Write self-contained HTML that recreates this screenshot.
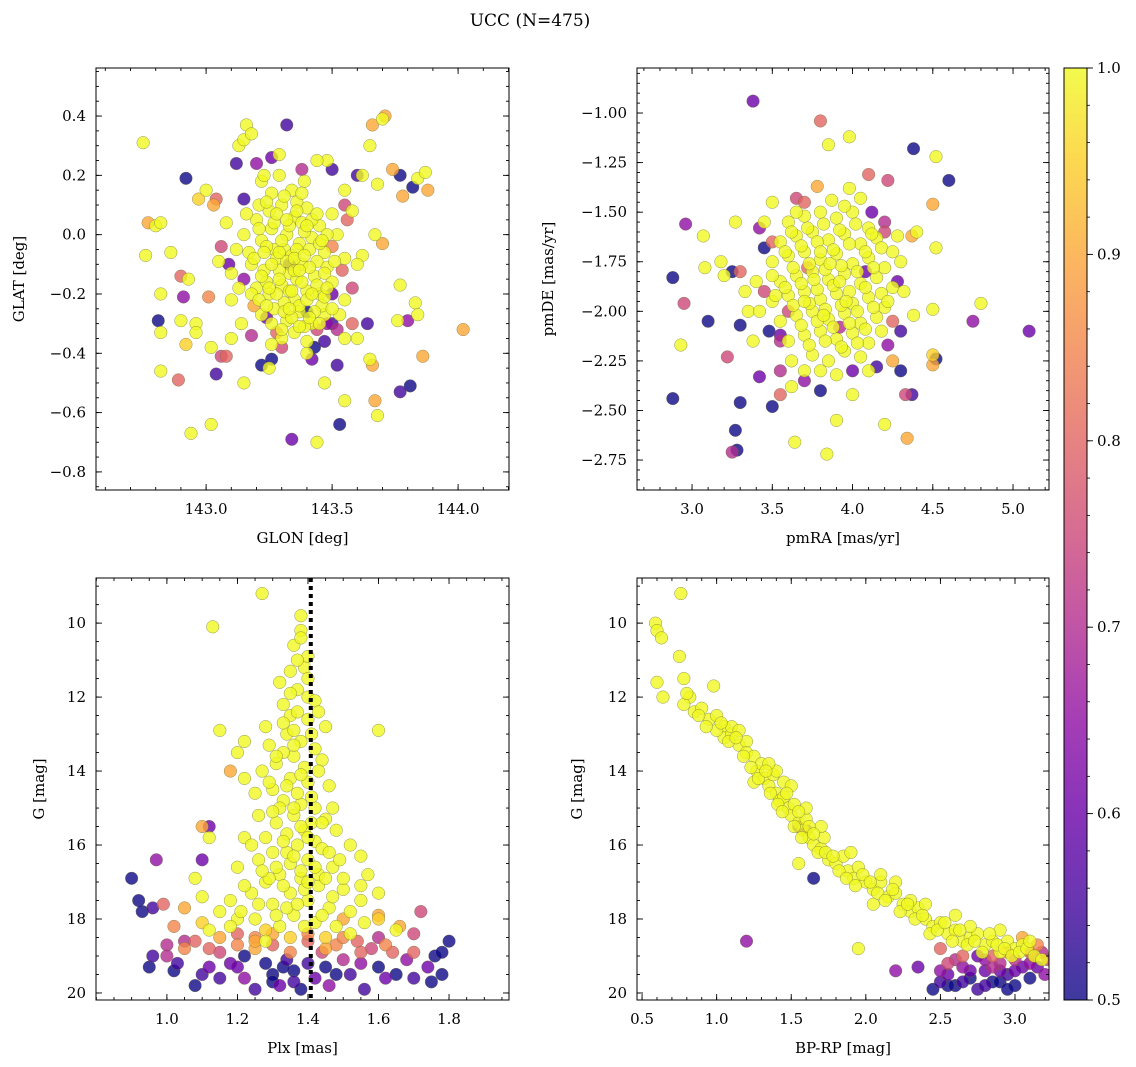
<!DOCTYPE html>
<html><head><meta charset="utf-8">
<style>
body{margin:0;background:#fff;}
svg{display:block;font-family:"DejaVu Serif","Liberation Serif",serif;}
</style></head>
<body>
<svg id="fig" width="1136" height="1067" viewBox="0 0 1136 1067" xmlns="http://www.w3.org/2000/svg">
<text x="530" y="26" font-size="17" text-anchor="middle">UCC (N=475)</text>
</svg>
<script>
// ---- data: [x, y, membership probability] ----
const glonGlat = [
[142.75,0.31,1],[142.76,-0.07,1],[142.77,0.04,0.9],[142.8,0.03,1],[142.82,0.04,1],[142.81,-0.29,0.5],[142.82,-0.2,1],[142.82,-0.33,1],[142.82,-0.46,1],[142.86,-0.06,1],[142.89,-0.49,0.8],[142.9,-0.14,0.8],[142.9,-0.29,1],[142.91,-0.21,0.65],[142.92,0.19,0.5],[142.92,-0.37,0.95],[142.93,-0.15,1],[142.94,-0.67,1],[142.96,-0.3,1],[142.96,-0.33,1],[142.97,0.12,0.95],[143.0,0.15,1],[143.01,-0.21,0.85],[143.02,-0.64,1],[143.02,-0.38,1],[143.03,0.1,0.9],[143.04,0.12,0.8],[143.04,-0.47,0.55],[143.06,-0.41,0.75],[143.05,-0.09,1],[143.08,-0.41,0.8],[143.1,-0.35,1],[143.12,0.24,0.55],[143.13,0.3,1],[143.15,0.32,1],[143.15,-0.5,1],[143.16,0.37,1],[143.18,0.34,1],[143.22,0.18,1],[143.22,-0.44,0.5],[143.25,-0.45,1],[143.26,0.26,0.6],[143.29,0.27,1],[143.32,0.37,0.55],[143.34,-0.69,0.6],[143.4,-0.4,1],[143.43,-0.38,0.5],[143.44,-0.7,1],[143.47,-0.5,1],[143.52,-0.44,0.55],[143.53,-0.64,0.5],[143.55,-0.56,1],[143.5,0.22,0.55],[143.48,0.25,1],[143.55,0.15,1],[143.6,0.2,0.55],[143.62,0.2,1],[143.65,0.3,1],[143.66,0.37,0.9],[143.7,0.39,1],[143.71,0.4,0.9],[143.68,0.17,1],[143.74,0.22,0.9],[143.77,0.2,0.5],[143.77,-0.17,1],[143.78,0.13,0.9],[143.82,0.16,0.5],[143.84,0.19,1],[143.87,0.21,1],[143.88,0.15,0.9],[143.8,-0.29,0.65],[143.76,-0.29,1],[143.77,-0.53,0.55],[143.81,-0.51,0.5],[143.83,-0.23,1],[143.84,-0.27,1],[143.86,-0.41,0.9],[144.02,-0.32,0.9],[143.7,-0.03,0.9],[143.67,0.0,1],[143.65,-0.42,1],[143.66,-0.44,0.9],[143.67,-0.56,0.9],[143.68,-0.61,1],[143.64,-0.3,0.55],[143.6,-0.35,1],[143.55,-0.35,1],[143.5,-0.3,0.55],[143.48,-0.3,0.65],[143.58,-0.18,0.75],[143.56,0.05,0.8],[143.62,-0.07,1],
[143.06,-0.04,0.75],[143.09,-0.1,0.6],[143.24,-0.28,0.6],[143.4,-0.26,0.5],[143.33,-0.1,0.55],
[143.2,0.05,1],[143.25,0.08,1],[143.3,0.1,1],[143.35,0.06,1],[143.4,0.09,1],[143.45,0.03,1],[143.22,-0.02,1],[143.27,-0.05,1],[143.32,0.0,1],[143.37,-0.03,1],[143.42,-0.01,1],[143.47,-0.06,1],[143.18,-0.1,1],[143.23,-0.12,1],[143.28,-0.08,1],[143.33,-0.13,1],[143.38,-0.1,1],[143.43,-0.14,1],[143.48,-0.11,1],[143.2,-0.18,1],[143.25,-0.2,1],[143.3,-0.17,1],[143.35,-0.22,1],[143.4,-0.19,1],[143.45,-0.2,1],[143.5,-0.16,1],[143.22,-0.27,1],[143.27,-0.25,1],[143.32,-0.29,1],[143.37,-0.26,1],[143.42,-0.3,1],[143.47,-0.27,1],[143.3,-0.35,1],[143.35,-0.33,1],[143.4,-0.36,1],[143.15,0.0,1],[143.12,-0.05,1],[143.1,-0.13,1],[143.52,0.0,1],[143.55,-0.08,1],[143.55,-0.22,1],[143.34,0.15,1],[143.29,0.2,1],[143.39,0.18,1],[143.44,0.25,1],[143.26,0.14,1],[143.08,0.04,1],[143.1,-0.22,1],[143.14,-0.3,1],[143.6,-0.1,1],[143.58,0.08,1],[143.31,-0.05,1],[143.36,-0.15,1],[143.29,-0.12,1],[143.41,-0.05,1],[143.34,-0.07,1],[143.24,-0.16,1],[143.46,-0.24,1],[143.21,0.1,1],[143.38,0.04,1],[143.33,-0.19,1],[143.28,-0.33,0.8],[143.44,-0.32,0.75],[143.19,-0.24,0.9],[143.5,-0.2,0.6],
[143.17,-0.06,1],[143.26,0.02,1],[143.36,0.11,1],[143.44,-0.09,1],[143.31,-0.23,1],[143.39,-0.31,1],[143.26,-0.37,1],[143.5,0.07,1],[143.16,0.07,1],[143.13,-0.18,1],[143.53,-0.27,1],[143.23,0.2,1]
];
const glonGlatCore = [
[143.21,0.02,1],[143.24,-0.04,1],[143.27,0.04,1],[143.3,-0.02,1],[143.33,0.03,1],[143.36,-0.05,1],[143.39,0.01,1],[143.42,0.05,1],[143.45,-0.03,1],[143.48,0.0,1],
[143.19,-0.08,1],[143.22,-0.14,1],[143.26,-0.1,1],[143.29,-0.15,1],[143.32,-0.09,1],[143.35,-0.12,1],[143.38,-0.16,1],[143.41,-0.11,1],[143.44,-0.17,1],[143.47,-0.13,1],[143.51,-0.09,1],
[143.18,-0.2,1],[143.21,-0.22,1],[143.24,-0.24,1],[143.28,-0.2,1],[143.31,-0.26,1],[143.34,-0.19,1],[143.37,-0.24,1],[143.4,-0.22,1],[143.43,-0.26,1],[143.47,-0.21,1],[143.5,-0.25,1],
[143.26,-0.3,1],[143.3,-0.32,1],[143.34,-0.28,1],[143.37,-0.31,1],[143.41,-0.28,1],[143.45,-0.3,1],
[143.28,0.07,1],[143.32,0.05,1],[143.36,0.08,1],[143.4,0.03,1],[143.44,0.07,1],[143.24,0.11,1],[143.31,0.13,1],[143.38,0.14,1],
[143.23,-0.06,1],[143.29,-0.06,1],[143.35,-0.08,1],[143.39,-0.07,1],[143.46,-0.02,1],[143.25,-0.18,1],[143.33,-0.25,1],[143.42,-0.2,1],[143.48,-0.18,1],[143.37,-0.12,1],
[143.5,-0.04,0.85],[143.54,-0.12,0.8],[143.52,-0.32,0.7],[143.3,-0.38,0.75],[143.42,-0.42,0.6],[143.18,-0.34,0.7],[143.15,-0.15,0.65],[143.55,0.1,0.75],[143.38,0.22,0.7],[143.2,0.24,0.65],[143.47,-0.36,0.55],[143.26,-0.42,0.5],[143.58,-0.3,0.8],[143.15,0.12,0.55]
];
const pmraPmde = [
[3.38,-0.94,0.6],[3.8,-1.04,0.8],[3.98,-1.12,1],[3.85,-1.16,1],[4.38,-1.18,0.5],[4.52,-1.22,1],[4.6,-1.34,0.5],[4.22,-1.34,0.75],[4.1,-1.31,0.8],[2.96,-1.56,0.65],[3.07,-1.62,1],[3.27,-1.55,1],[2.88,-1.83,0.5],[3.08,-1.78,1],[3.18,-1.75,1],[3.25,-1.8,0.5],[3.3,-1.8,0.8],[3.2,-1.82,1],[2.95,-1.96,0.75],[3.1,-2.05,0.5],[2.93,-2.17,1],[3.22,-2.23,0.75],[3.3,-2.07,0.5],[3.35,-2.0,1],[2.88,-2.44,0.5],[3.3,-2.46,0.5],[3.27,-2.6,0.5],[3.25,-2.71,0.7],[3.28,-2.7,0.5],[3.42,-2.33,0.6],[3.5,-2.48,0.5],[3.55,-2.42,0.8],[3.64,-2.66,1],[3.8,-2.4,0.5],[3.84,-2.72,1],[3.9,-2.55,1],[4.0,-2.42,1],[4.2,-2.57,1],[4.33,-2.42,0.75],[4.37,-2.42,0.55],[4.34,-2.64,0.9],[4.5,-2.27,0.9],[4.52,-2.24,0.5],[4.5,-2.22,0.95],[4.3,-2.3,0.5],[4.25,-2.25,0.9],[4.5,-1.99,1],[4.8,-1.96,1],[4.75,-2.05,0.65],[5.1,-2.1,0.6],[4.52,-1.68,1],[4.4,-1.6,1],[4.37,-1.62,0.9],[4.5,-1.46,0.9],[3.5,-1.45,1],[3.65,-1.43,0.75],[3.78,-1.37,0.9],[3.7,-1.45,0.8],[4.05,-1.43,1],[4.12,-1.5,0.6],[4.2,-1.55,0.7],[3.42,-1.58,0.65],[3.45,-1.68,0.5],[3.48,-2.1,0.5],[3.55,-2.12,0.6],[4.0,-2.3,0.6],[4.15,-2.28,0.55],[4.3,-2.1,0.55],[4.22,-2.17,0.65],[3.55,-2.3,0.7],
[3.6,-1.55,1],[3.7,-1.52,1],[3.8,-1.5,1],[3.9,-1.53,1],[4.0,-1.5,1],[4.1,-1.58,1],[3.55,-1.65,1],[3.65,-1.62,1],[3.75,-1.6,1],[3.85,-1.64,1],[3.95,-1.61,1],[4.05,-1.66,1],[4.15,-1.63,1],[3.5,-1.75,1],[3.6,-1.72,1],[3.7,-1.7,1],[3.8,-1.74,1],[3.9,-1.71,1],[4.0,-1.76,1],[4.1,-1.73,1],[4.2,-1.78,1],[3.55,-1.85,1],[3.65,-1.82,1],[3.75,-1.8,1],[3.85,-1.84,1],[3.95,-1.81,1],[4.05,-1.86,1],[4.15,-1.83,1],[4.25,-1.88,1],[3.5,-1.95,1],[3.6,-1.92,1],[3.7,-1.9,1],[3.8,-1.94,1],[3.9,-1.91,1],[4.0,-1.96,1],[4.1,-1.93,1],[4.2,-1.98,1],[3.55,-2.05,1],[3.65,-2.02,1],[3.75,-2.0,1],[3.85,-2.04,1],[3.95,-2.01,1],[4.05,-2.06,1],[4.15,-2.03,1],[3.6,-2.15,1],[3.7,-2.12,1],[3.8,-2.1,1],[3.9,-2.14,1],[4.0,-2.11,1],[4.1,-2.16,1],[3.75,-2.22,1],[3.85,-2.25,1],[3.95,-2.2,1],[4.05,-2.23,1],[3.7,-2.3,1],[3.9,-2.32,1],[3.62,-2.38,1],[3.4,-1.85,1],[3.42,-2.0,1],[4.3,-1.75,1],[4.32,-1.9,1],[3.45,-1.55,1],[3.87,-1.44,1],[3.98,-1.38,1],[4.28,-1.62,1],[3.33,-1.9,1],[3.38,-2.15,1],[4.38,-2.02,1],[3.72,-1.78,0.8],[3.92,-2.08,0.7],[4.08,-1.8,0.6],[3.6,-2.0,0.75]
];
const pmraPmdeCore = [
[3.62,-1.6,1],[3.72,-1.58,1],[3.82,-1.56,1],[3.92,-1.59,1],[4.02,-1.56,1],[4.12,-1.61,1],[3.58,-1.7,1],[3.68,-1.67,1],[3.78,-1.65,1],[3.88,-1.69,1],[3.98,-1.66,1],[4.08,-1.7,1],[4.18,-1.68,1],[3.63,-1.78,1],[3.73,-1.76,1],[3.83,-1.79,1],[3.93,-1.77,1],[4.03,-1.8,1],[4.13,-1.78,1],[3.58,-1.88,1],[3.68,-1.86,1],[3.78,-1.89,1],[3.88,-1.87,1],[3.98,-1.9,1],[4.08,-1.88,1],[4.18,-1.91,1],[3.63,-1.97,1],[3.73,-1.96,1],[3.83,-1.99,1],[3.93,-1.97,1],[4.03,-2.0,1],[4.13,-1.98,1],[3.68,-2.07,1],[3.78,-2.05,1],[3.88,-2.08,1],[3.98,-2.06,1],[4.08,-2.09,1],[3.73,-2.17,1],[3.83,-2.15,1],[3.93,-2.18,1],[4.03,-2.16,1],[3.8,-1.7,1],[3.86,-1.76,1],[3.76,-1.84,1],[3.92,-1.85,1],[3.7,-1.95,1],[3.96,-1.95,1],[3.82,-2.02,1],[3.5,-1.82,1],[3.52,-1.92,1],[4.25,-1.7,1],[4.22,-1.95,1],[3.65,-1.5,1],[3.95,-1.47,1],[4.18,-2.1,1],[3.62,-2.25,1],[3.8,-2.3,1],[4.1,-2.3,1],
[3.5,-1.65,0.8],[4.2,-1.6,0.75],[3.55,-2.15,0.7],[4.25,-2.05,0.8],[3.7,-2.35,0.65],[4.28,-1.85,0.6],[3.45,-1.9,0.75]
];
const plxG = [
[1.36,10.6,1],[1.38,9.8,1],[1.38,10.2,1],[1.38,10.4,1],[1.27,9.2,1],[1.13,10.1,1],[1.35,11.3,1],[1.32,11.6,1],[1.39,11.2,1],[1.37,11.8,1],[1.4,12.0,1],[1.33,12.2,1],[1.42,12.1,1],[1.35,12.5,1],[1.28,12.8,1],[1.4,12.6,1],[1.45,12.8,1],[1.34,13.0,1],[1.38,13.2,1],[1.29,13.3,1],[1.42,13.4,1],[1.36,13.6,1],[1.31,13.8,1],[1.39,13.9,1],[1.44,13.7,1],[1.27,14.0,1],[1.35,14.2,1],[1.4,14.3,1],[1.22,14.2,1],[1.3,14.5,1],[1.46,14.4,1],[1.33,14.8,1],[1.38,14.9,1],[1.42,15.0,1],[1.25,14.6,1],[1.36,15.2,1],[1.31,15.4,1],[1.45,15.3,1],[1.39,15.6,1],[1.28,15.8,1],[1.34,15.7,1],[1.48,15.6,1],[1.42,15.9,1],[1.22,15.8,1],[1.37,16.0,1],[1.3,16.2,1],[1.44,16.1,1],[1.52,16.0,1],[1.26,16.4,1],[1.35,16.5,1],[1.4,16.4,1],[1.47,16.6,1],[1.32,16.8,1],[1.38,16.9,1],[1.2,16.6,1],[1.55,16.3,1],[1.28,17.0,1],[1.43,17.1,1],[1.35,17.3,1],[1.5,17.2,1],[1.24,17.3,1],[1.4,17.5,1],[1.3,17.6,1],[1.18,17.5,1],[1.46,17.7,1],[1.55,17.5,1],[1.36,17.9,1],[1.25,18.0,1],[1.42,18.1,1],[1.15,17.8,1],[1.6,12.9,1],[1.15,12.9,1],[1.2,13.5,1],[1.22,13.2,1],[1.1,15.5,0.9],[1.12,15.8,1],[1.18,14.0,0.9],[1.08,16.9,1],[1.1,17.4,1],[1.1,18.1,0.95],[1.2,18.0,1],[1.6,17.9,0.9],[1.65,18.3,1],[1.52,18.4,1],[1.48,18.2,1],[1.12,18.3,1],[1.32,18.2,1],[1.45,18.5,0.95],[1.05,17.7,0.9],[1.55,17.1,1],
[1.33,13.5,1],[1.37,14.6,1],[1.41,15.4,1],[1.34,16.2,1],[1.39,17.2,1],[1.32,15.0,1],[1.43,16.8,1],[1.29,16.9,1],[1.36,12.9,1],[1.4,11.5,1],[1.26,15.2,1],[1.47,15.0,1],[1.34,17.7,1],[1.5,16.9,1],[1.22,17.1,1],
[0.9,16.9,0.5],[0.92,17.5,0.5],[0.93,17.8,0.5],[0.96,17.7,0.55],[0.97,16.4,0.65],[0.99,17.6,0.8],[1.0,18.7,0.7],[0.95,19.3,0.5],[0.96,19.0,0.55],[1.02,19.4,0.5],[1.03,19.2,0.55],[1.05,18.6,0.7],[1.08,19.8,0.5],[1.1,19.5,0.55],[1.12,19.3,0.6],[1.08,18.6,0.8],[1.1,16.4,0.6],[1.12,15.5,0.6],[1.15,18.9,0.75],[1.18,19.2,0.6],[1.2,18.4,0.8],[1.22,19.6,0.65],[1.22,19.0,0.5],[1.25,18.5,0.85],[1.25,19.9,0.55],[1.28,19.2,0.5],[1.3,18.7,0.8],[1.3,19.5,0.5],[1.32,19.8,0.6],[1.34,19.1,0.55],[1.35,18.9,0.85],[1.36,19.4,0.5],[1.38,19.9,0.5],[1.4,18.6,0.8],[1.4,19.2,0.55],[1.42,19.6,0.6],[1.44,18.9,0.75],[1.45,19.3,0.5],[1.46,19.8,0.65],[1.48,18.7,0.85],[1.5,19.1,0.7],[1.52,19.5,0.55],[1.54,18.6,0.8],[1.55,19.2,0.65],[1.56,19.9,0.55],[1.58,18.8,0.75],[1.6,19.3,0.5],[1.6,18.5,0.7],[1.62,19.6,0.6],[1.64,18.9,0.8],[1.65,19.5,0.5],[1.66,18.2,0.9],[1.68,19.1,0.65],[1.7,18.4,0.75],[1.7,19.6,0.55],[1.72,17.8,0.75],[1.74,19.3,0.6],[1.75,19.7,0.5],[1.76,19.0,0.5],[1.78,18.9,0.5],[1.8,18.6,0.5],[1.78,19.5,0.5],[1.6,18.0,0.95],[1.5,18.0,0.9],[1.45,18.8,0.9],[1.35,18.5,0.95],[1.25,18.8,0.9],[1.15,18.5,0.9],[1.05,18.8,0.85],[1.0,19.0,0.7],[1.28,18.3,0.95]
];
const plxGCore = [
[1.37,12.4,1],[1.33,12.7,1],[1.41,13.0,1],[1.36,13.3,1],[1.31,13.6,1],[1.43,14.0,1],[1.38,14.1,1],[1.34,14.4,1],[1.41,14.7,1],[1.36,15.0,1],[1.3,15.1,1],[1.44,15.4,1],[1.38,15.5,1],[1.33,15.9,1],[1.4,15.8,1],[1.46,16.2,1],[1.36,16.3,1],[1.31,16.6,1],[1.42,16.6,1],[1.27,16.7,1],[1.38,16.7,1],[1.45,16.9,1],[1.33,17.1,1],[1.4,17.0,1],[1.26,17.6,1],[1.47,17.4,1],[1.37,17.6,1],[1.31,17.9,1],[1.44,17.9,1],[1.52,17.8,1],[1.21,17.8,1],[1.39,18.2,1],[1.28,18.6,1],[1.56,18.1,1],[1.18,18.2,1],[1.6,17.3,1],[1.57,16.8,1],[1.49,16.4,1],[1.24,16.0,1],[1.29,14.3,1],[1.43,12.4,1],[1.35,11.9,1],[1.4,10.9,1],[1.37,11.0,1],
[1.2,18.7,0.85],[1.3,18.4,0.9],[1.4,18.4,0.85],[1.5,18.5,0.85],[1.62,18.7,0.85],[1.12,18.8,0.8],[1.25,18.6,0.9],[1.55,18.9,0.8],[1.7,18.9,0.8],[1.02,18.2,0.85],
[1.3,19.7,0.5],[1.36,19.7,0.55],[1.33,19.3,0.5],[1.15,19.6,0.55],[1.48,19.5,0.5],[1.2,19.3,0.6]
];
const colorG = [
[0.59,10.0,1],[0.6,10.2,1],[0.63,10.4,1],[0.76,9.2,1],[0.6,11.6,1],[0.64,12.0,1],[0.75,10.9,1],[0.78,11.5,1],[0.82,12.0,1],[0.78,12.2,1],[0.85,12.4,1],[0.8,11.9,1],[0.9,12.3,1],[0.95,12.6,1],[0.98,11.7,1],[1.0,12.5,1],[1.05,12.8,1],[1.05,13.1,1],[1.1,13.0,1],[1.1,12.8,1],[1.15,13.3,1],[1.2,13.2,1],[1.2,13.5,1],[1.25,13.6,1],[1.27,14.0,1],[1.3,13.8,1],[1.32,14.2,1],[1.35,14.4,1],[1.38,14.1,1],[1.4,14.6,1],[1.42,14.8,1],[1.45,14.7,1],[1.48,15.0,1],[1.5,15.2,1],[1.52,14.9,1],[1.55,15.4,1],[1.58,15.6,1],[1.6,15.3,1],[1.62,15.8,1],[1.65,16.0,1],[1.7,16.1,1],[1.72,15.8,1],[1.75,16.4,1],[1.8,16.5,1],[1.85,16.3,1],[1.88,16.7,1],[1.92,16.9,1],[1.95,16.6,1],[2.0,17.0,1],[2.05,17.2,1],[2.1,17.0,1],[2.15,17.4,1],[2.2,17.3,1],[2.25,17.6,1],[2.3,17.8,1],[2.35,17.7,1],[2.4,18.0,1],[2.45,18.2,1],[2.5,18.1,1],[2.55,18.4,1],[2.6,18.3,1],[2.65,18.6,1],[2.7,18.5,1],[2.75,18.4,1],[2.8,18.7,1],[2.85,18.6,1],[2.9,18.9,1],[2.95,18.6,1],[3.0,18.8,1],[3.05,18.7,1],[1.95,18.8,1],[1.55,16.5,1],[1.4,14.0,1],[1.25,14.3,1],[1.6,15.0,1],[1.7,15.5,1],[1.9,16.2,1],[2.1,16.8,1],[2.2,17.0,1],[2.3,17.5,1],[1.45,14.3,1],[1.5,14.4,1],[1.35,13.8,1],[1.15,12.9,1],[1.0,12.9,1],[2.05,17.6,1],[2.4,17.6,1],[2.6,17.9,1],[2.7,18.2,1],[2.9,18.3,1],
[1.2,18.6,0.65],[1.65,16.9,0.5],[1.6,15.6,0.6],[1.55,15.5,0.6],[2.2,19.4,0.65],[2.35,19.3,0.6],[2.45,19.9,0.5],[2.5,19.7,0.55],[2.55,19.5,0.6],[2.6,19.8,0.5],[2.65,19.3,0.65],[2.7,19.6,0.5],[2.75,19.9,0.55],[2.8,19.4,0.6],[2.85,19.7,0.5],[2.9,19.2,0.7],[2.95,19.5,0.55],[3.0,19.8,0.5],[3.05,19.3,0.6],[3.1,19.6,0.5],[3.12,19.0,0.75],[3.15,19.3,0.6],[3.18,18.9,0.7],[3.2,19.5,0.65],[3.22,19.1,0.75],[3.15,18.7,0.85],[3.1,18.9,0.8],[3.0,19.1,0.7],[2.9,19.4,0.6],[2.8,19.1,0.65],[2.75,19.0,0.6],[2.6,19.1,0.7],[2.5,18.8,0.8],[2.95,18.9,0.85],[3.05,18.5,0.9],[2.85,19.0,0.8]
];
const colorGCore = [
[0.88,12.5,1],[0.93,12.8,1],[1.03,12.7,1],[1.08,13.2,1],[1.13,13.1,1],[1.18,13.6,1],[1.23,13.9,1],[1.28,14.2,1],[1.33,14.0,1],[1.36,14.6,1],[1.41,14.9,1],[1.44,15.1,1],[1.47,14.6,1],[1.52,15.5,1],[1.55,15.1,1],[1.57,15.8,1],[1.62,15.5,1],[1.65,15.7,1],[1.68,16.2,1],[1.73,16.2,1],[1.78,16.3,1],[1.82,16.7,1],[1.87,16.9,1],[1.93,17.1,1],[1.98,16.8,1],[2.03,17.0,1],[2.08,17.3,1],[2.13,17.5,1],[2.18,17.2,1],[2.23,17.8,1],[2.28,17.6,1],[2.33,18.0,1],[2.38,17.9,1],[2.43,18.4,1],[2.48,18.3,1],[2.53,18.1,1],[2.58,18.6,1],[2.63,18.3,1],[2.68,18.7,1],[2.73,18.6,1],[2.78,18.9,1],[2.83,18.4,1],[2.88,18.7,1],[2.93,18.8,1],[2.98,19.0,1],[3.03,18.9,1],[3.08,18.8,1],[3.13,19.0,1],[3.18,19.1,1],[3.1,18.6,1],
[2.55,19.2,0.75],[2.65,19.0,0.8],[2.85,19.3,0.7],[3.0,19.4,0.6],[2.7,19.4,0.6],[2.9,19.7,0.5],[2.95,19.9,0.5],[2.55,19.8,0.5],[2.65,19.7,0.55],[2.5,19.4,0.65],[3.1,19.2,0.65],[2.8,19.8,0.55]
];
const glonTicks=[143.0,143.5,144.0], glatTicks=[0.4,0.2,0.0,-0.2,-0.4,-0.6,-0.8];
const pmraTicks=[3.0,3.5,4.0,4.5,5.0], pmdeTicks=[-1.0,-1.25,-1.5,-1.75,-2.0,-2.25,-2.5,-2.75];
const plxTicks=[1.0,1.2,1.4,1.6,1.8], gTicks=[10,12,14,16,18,20];
const bprpTicks=[0.5,1.0,1.5,2.0,2.5,3.0], cbarTicks=[0.5,0.6,0.7,0.8,0.9,1.0];
const plxMedian=[1.408];

const NS='http://www.w3.org/2000/svg';
const svg=document.getElementById('fig');
function mk(tag,attrs,parent){const e=document.createElementNS(NS,tag);for(const k in attrs)e.setAttribute(k,attrs[k]);(parent||svg).appendChild(e);return e;}
const stops=[[13,8,135],[65,4,157],[106,0,168],[143,13,164],[177,42,144],[204,71,120],[225,100,98],[242,132,75],[252,166,54],[252,206,37],[240,249,33]];
function plasma(t){t=Math.max(0,Math.min(1,t))*10;const i=Math.min(9,Math.floor(t)),f=t-i;const a=stops[i],b=stops[i+1];return 'rgb('+a.map((v,k)=>Math.round(v+(b[k]-v)*f)).join(',')+')';}
function col(p){return plasma((p-0.5)/0.5);}
function minors(ticks,dom,n){
  const step=Math.abs(ticks[1]-ticks[0])/n;
  const lo=Math.min(dom[0],dom[1]),hi=Math.max(dom[0],dom[1]);
  const start=ticks[0]-Math.floor((ticks[0]-lo)/step)*step;
  const out=[];
  for(let i=0;i<500;i++){const v=start+i*step;if(v>hi+1e-9)break;out.push(v);}
  return out;
}

function panel(o){
  const g=mk('g',{});
  
  
  const sx=v=>o.x0+(v-o.xd[0])/(o.xd[1]-o.xd[0])*(o.x1-o.x0);
  const sy=v=>o.y0+(v-o.yd[0])/(o.yd[1]-o.yd[0])*(o.y1-o.y0);
  const clip='c'+o.name;
  const cp=mk('clipPath',{id:clip},g);mk('rect',{x:o.x0,y:o.y0,width:o.x1-o.x0,height:o.y1-o.y0},cp);
  const pg=mk('g',{'clip-path':'url(#'+clip+')'},g);
  const sorted=o.data.slice().sort((a,b)=>a[2]-b[2]);
  sorted.forEach(d=>{const c=mk('circle',{cx:sx(d[0]),cy:sy(d[1]),r:6.3,fill:col(d[2]),'fill-opacity':0.8,stroke:'#6b6b3a','stroke-opacity':0.7,'stroke-width':0.5},pg);
    
    });
  if(o.vline){o.vline.forEach(v=>{const l=mk('line',{x1:sx(v),x2:sx(v),y1:o.y0,y2:o.y1,stroke:'#000','stroke-width':4,'stroke-dasharray':'4,4'},pg);
    
    });}
  const fr=mk('rect',{x:o.x0,y:o.y0,width:o.x1-o.x0,height:o.y1-o.y0,fill:'none',stroke:'#000','stroke-width':1},g);
  
  
  const tk={stroke:'#000','stroke-width':0.9};
  minors(o.xt,o.xd,o.xm).forEach(v=>{const x=sx(v);if(x<o.x0||x>o.x1)return;mk('line',Object.assign({x1:x,x2:x,y1:o.y1,y2:o.y1-3},tk),g);mk('line',Object.assign({x1:x,x2:x,y1:o.y0,y2:o.y0+3},tk),g);});
  minors(o.yt,o.yd,o.ym).forEach(v=>{const y=sy(v);if(y<o.y0||y>o.y1)return;mk('line',Object.assign({x1:o.x0,x2:o.x0+3,y1:y,y2:y},tk),g);mk('line',Object.assign({x1:o.x1,x2:o.x1-3,y1:y,y2:y},tk),g);});
  o.xt.forEach(v=>{const x=sx(v);mk('line',Object.assign({x1:x,x2:x,y1:o.y1,y2:o.y1-6},tk),g);mk('line',Object.assign({x1:x,x2:x,y1:o.y0,y2:o.y0+6},tk),g);
    const t=mk('text',{x:x,y:o.y1+24,'font-size':15,'text-anchor':'middle'},g);t.textContent=v.toFixed(o.xf);
    
    });
  o.yt.forEach(v=>{const y=sy(v);mk('line',Object.assign({x1:o.x0,x2:o.x0+6,y1:y,y2:y},tk),g);mk('line',Object.assign({x1:o.x1,x2:o.x1-6,y1:y,y2:y},tk),g);
    const t=mk('text',{x:o.x0-10,y:y+5,'font-size':15,'text-anchor':'end'},g);t.textContent=(v<0?'\u2212':'')+Math.abs(v).toFixed(o.yf);
    
    });
  const xl=mk('text',{x:(o.x0+o.x1)/2,y:o.y1+53,'font-size':15,'text-anchor':'middle'},g);xl.textContent=o.xl;
  
  
  const yx=o.ylx,yy=(o.y0+o.y1)/2;
  const yl=mk('text',{x:yx,y:yy,'font-size':15,'text-anchor':'middle',transform:'rotate(-90 '+yx+' '+yy+')'},g);yl.textContent=o.yl;
  
  
}
panel({name:'glon-glat-panel',data:glonGlat.concat(glonGlatCore),x0:96,x1:509,y0:68,y1:490,xd:[142.563,144.202],yd:[0.562,-0.861],xt:glonTicks,yt:glatTicks,xm:5,ym:4,xf:1,yf:1,xl:'GLON [deg]',yl:'GLAT [deg]',ylx:24});
panel({name:'pm-panel',data:pmraPmde.concat(pmraPmdeCore),x0:637,x1:1049,y0:68,y1:490,xd:[2.657,5.224],yd:[-0.773,-2.901],xt:pmraTicks,yt:pmdeTicks,xm:5,ym:5,xf:1,yf:2,xl:'pmRA [mas/yr]',yl:'pmDE [mas/yr]',ylx:553});
panel({name:'plx-g-panel',data:plxG.concat(plxGCore),x0:96,x1:509,y0:578,y1:1000,xd:[0.799,1.970],yd:[8.78,20.19],xt:plxTicks,yt:gTicks,xm:4,ym:4,xf:1,yf:0,xl:'Plx [mas]',yl:'G [mag]',ylx:44,vline:plxMedian});
panel({name:'cmd-panel',data:colorG.concat(colorGCore),x0:637,x1:1049,y0:578,y1:1000,xd:[0.466,3.228],yd:[8.78,20.19],xt:bprpTicks,yt:gTicks,xm:5,ym:4,xf:1,yf:0,xl:'BP-RP [mag]',yl:'G [mag]',ylx:582});

(function(){
  const g=mk('g',{});
  
  
  const x0=1064,w=23,y0=68,y1=1000;
  const gr=mk('linearGradient',{id:'cbg',x1:0,y1:1,x2:0,y2:0},g);
  for(let i=0;i<=10;i++)mk('stop',{offset:i/10,'stop-color':plasma(i/10),'stop-opacity':0.8},gr);
  mk('rect',{x:x0,y:y0,width:w,height:y1-y0,fill:'url(#cbg)',stroke:'#000','stroke-width':1},g);
  const sy=v=>y1-(v-0.5)/0.5*(y1-y0);
  for(let i=0;i<=25;i++){const y=sy(0.5+i*0.02);mk('line',{x1:x0+w,x2:x0+w+3,y1:y,y2:y,stroke:'#000','stroke-width':0.8},g);}
  cbarTicks.forEach(v=>{const y=sy(v);mk('line',{x1:x0+w,x2:x0+w+6,y1:y,y2:y,stroke:'#000','stroke-width':0.9},g);
    const t=mk('text',{x:x0+w+10,y:y+5,'font-size':15},g);t.textContent=v.toFixed(1);
    
    });
})();
</script>
</body></html>
